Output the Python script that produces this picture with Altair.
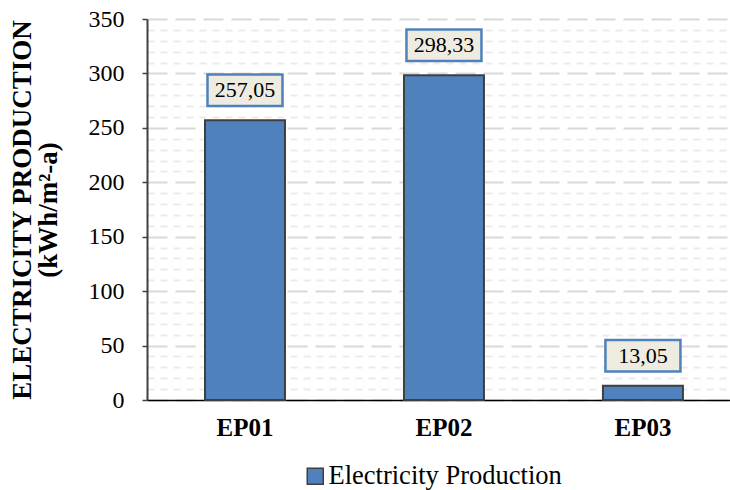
import altair as alt
import pandas as pd

# Annual electricity production per case
cases = ["EP01", "EP02", "EP03"]
production = [257.05, 298.33, 13.05]
series_name = "Electricity Production"
y_ticks = list(range(0, 351, 10))

df = pd.DataFrame({"case": cases, "value": production, "series": [series_name] * len(cases)})

SERIF = "Liberation Serif"
BAR_FILL = "#4f81bd"
BAR_EDGE = "#3f3f3f"

x_enc = alt.X(
    "case:N",
    sort=cases,
    title=None,
    scale=alt.Scale(paddingInner=0.598, paddingOuter=0.264, align=0.552),
    axis=alt.Axis(
        labelFont=SERIF, labelFontSize=25, labelFontWeight="bold", labelColor="black",
        labelAngle=0, labelPadding=15, ticks=False,
        domainColor="black", domainWidth=1.5, grid=False,
    ),
)

y_scale = alt.Scale(domain=[0, 350], nice=False)

major = "datum.value % 50 === 0"

y_axis = alt.Axis(
    values=y_ticks,
    tickCount=len(y_ticks),
    labelExpr=f"{major} ? datum.label : ''",
    labelOverlap=False, labelFlush=False,
    labelFont=SERIF, labelFontSize=24, labelColor="black", labelPadding=18,
    tickSize=5, tickWidth=1.5,
    tickColor={"condition": {"test": major, "value": "#404040"}, "value": "transparent"},
    domainColor="#404040", domainWidth=2,
    grid=True,
    gridColor={"condition": {"test": major, "value": "#d9d9d9"}, "value": "#ebebeb"},
    gridDash={"condition": {"test": major, "value": [20, 8]}, "value": [7, 6]},
    gridWidth=2,
    title=["ELECTRICITY PRODUCTION", "(kWh/m²-a)"],
    titleFont=SERIF, titleFontSize=27, titleFontWeight="bold", titleColor="black",
    titleLineHeight=26, titlePadding=26,
)

bars = alt.Chart(df).mark_bar(stroke=BAR_EDGE, strokeWidth=2).encode(
    x=x_enc,
    y=alt.Y("value:Q", scale=y_scale, axis=y_axis),
    color=alt.Color(
        "series:N",
        scale=alt.Scale(domain=[series_name], range=[BAR_FILL]),
        legend=alt.Legend(
            title=None, orient="none", legendX=155, legendY=444,
            symbolType="square", symbolSize=256,
            symbolStrokeColor=BAR_EDGE, symbolStrokeWidth=1.5,
            labelFont=SERIF, labelFontSize=26.5, labelColor="black",
            labelLimit=400, labelOffset=0,
        ),
    ),
)

labelled = alt.Chart(df).transform_calculate(
    label="replace(format(datum.value, '.2f'), '.', ',')"
)

boxes = labelled.mark_point(
    shape="M-1,-0.42L1,-0.42L1,0.42L-1,0.42Z",
    size=5625, filled=True, fill="#eeece1", stroke="#4f81bd",
    strokeWidth=2.5, opacity=1, yOffset=-30,
).encode(
    x=alt.X("case:N", sort=cases),
    y=alt.Y("value:Q"),
)

texts = labelled.mark_text(
    font=SERIF, fontSize=22, color="black", baseline="middle", align="center", yOffset=-30,
).encode(
    x=alt.X("case:N", sort=cases),
    y=alt.Y("value:Q"),
    text="label:N",
)

chart = (
    alt.layer(bars, boxes, texts)
    .properties(
        width=583,
        height=381,
        autosize=alt.AutoSizeParams(type="none"),
        padding={"left": 147, "top": 19, "right": 0, "bottom": 90},
        background="white",
    )
    .configure_view(stroke=None)
)

chart.save("out.html", embed_options={"renderer": "svg", "actions": False})
